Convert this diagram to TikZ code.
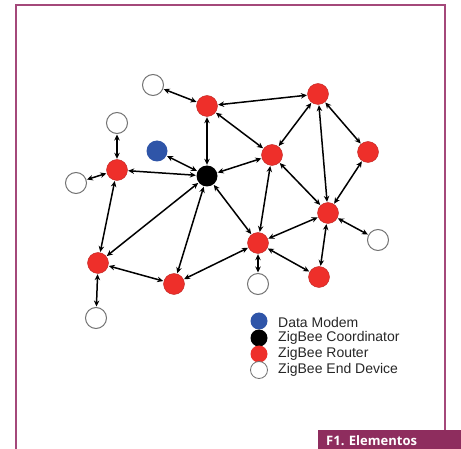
\documentclass[tikz,border=0pt]{standalone}
\usepackage{fontspec}
\setmainfont{Liberation Sans}
\newfontfamily\capfont{Open Sans}
\usetikzlibrary{arrows.meta}
\definecolor{framepink}{HTML}{A4487A}
\definecolor{capbox}{HTML}{8E2D5E}
\definecolor{routerred}{HTML}{EE2F2A}
\definecolor{modemblue}{HTML}{2F55A8}

\begin{document}
\begin{tikzpicture}
[x=1pt,y=-1pt,
 dev/.style={circle,minimum size=21pt,inner sep=0pt},
 router/.style={dev,fill=routerred,draw=routerred!80!black,line width=0.4pt},
 coord/.style={dev,fill=black},
 modem/.style={dev,fill=modemblue},
 enddev/.style={dev,draw=black!55,line width=1pt,fill=white},
 link/.style={{Stealth[length=6pt,width=5.5pt]}-{Stealth[length=6pt,width=5.5pt]},line width=1.5pt,shorten <=0.5pt,shorten >=0.5pt},
 legdot/.style={circle,minimum size=17pt,inner sep=0pt},
 legtext/.style={anchor=west,inner sep=0pt,font=\fontsize{14}{15}\selectfont,text=black!85}]
\useasboundingbox (0,0) rectangle (461,449);
\clip (0,0) rectangle (461,449);
% frame and caption
\draw[framepink,line width=1.3pt] (445,430) -- (445,5) -- (16,5) -- (16,449);
\fill[capbox] (318,430) rectangle (461,449);
\node[anchor=base west,inner sep=0pt,text=white,font=\capfont\bfseries\fontsize{13}{15}\selectfont] (cap) at (326,445) {F1. Elementos};
% devices
\node[coord](c) at (207,176){};
\node[modem](m) at (157,151){};
\node[router](r1) at (207,106){};
\node[router](r2) at (318,94){};
\node[router](r3) at (368,152){};
\node[router](r4) at (272,155){};
\node[router](r5) at (117,170){};
\node[router](r6) at (328,213){};
\node[router](r7) at (258,243){};
\node[router](r8) at (319,277){};
\node[router](r9) at (98,263){};
\node[router](r10) at (174,284){};
\node[enddev](e1) at (153,85){};
\node[enddev](e2) at (117,123){};
\node[enddev](e3) at (76,183){};
\node[enddev](e4) at (378,240){};
\node[enddev](e5) at (258,284){};
\node[enddev](e6) at (96,318){};
% links
\path[link] (e1) edge (r1);
\path[link] (r1) edge (r2);
\path[link] (r1) edge (c);
\path[link] (r1) edge (r4);
\path[link] (r2) edge (r4);
\path[link] (r2) edge (r6);
\path[link] (r2) edge (r3);
\path[link] (r3) edge (r6);
\path[link] (r4) edge (c);
\path[link] (r4) edge (r6);
\path[link] (r4) edge (r7);
\path[link] (m) edge (c);
\path[link] (r5) edge (c);
\path[link] (r5) edge (e2);
\path[link] (r5) edge (e3);
\path[link] (r5) edge (r9);
\path[link] (c) edge (r9);
\path[link] (c) edge (r10);
\path[link] (c) edge (r7);
\path[link] (r9) edge (r10);
\path[link] (r9) edge (e6);
\path[link] (r10) edge (r7);
\path[link] (r7) edge (r6);
\path[link] (r7) edge (e5);
\path[link] (r7) edge (r8);
\path[link] (r6) edge (r8);
\path[link] (r6) edge (e4);
% legend
\node[legdot,fill=modemblue](lm) at (259,321){};
\node[legdot,fill=black](lc) at (259,338){};
\node[legdot,fill=routerred](lr) at (259,354){};
\node[legdot,draw=black!55,line width=0.8pt,fill=white](le) at (259,370){};
\node[legtext] at (278,322){Data Modem};
\node[legtext] at (278,338){ZigBee Coordinator};
\node[legtext] at (278,354){ZigBee Router};
\node[legtext] at (278,370){ZigBee End Device};
\end{tikzpicture}
\end{document}
